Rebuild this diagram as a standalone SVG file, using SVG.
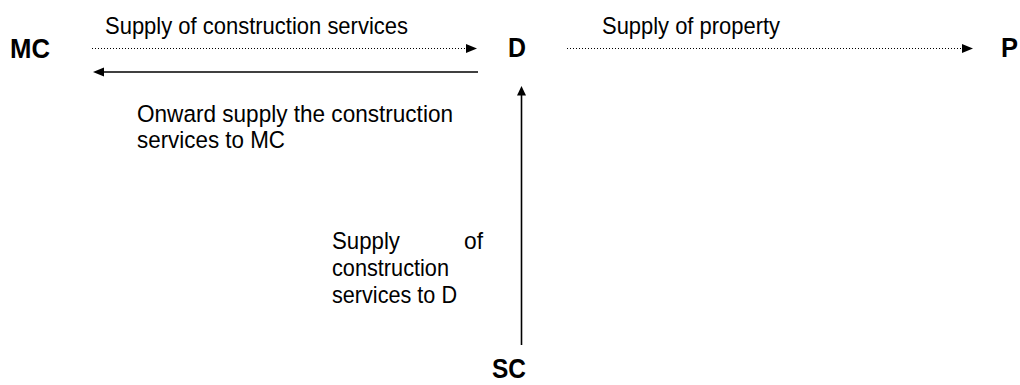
<svg xmlns="http://www.w3.org/2000/svg" width="1020" height="385" viewBox="0 0 1020 385">
<style>
.node{font-family:"Liberation Sans",Arial,sans-serif;font-weight:bold;font-size:27px;fill:#000}
.lbl{font-family:"Liberation Sans",Arial,sans-serif;font-size:24.5px;fill:#000}
.dot{stroke:#000;stroke-width:1;stroke-dasharray:1 2;fill:none}
.sol{stroke:#000;stroke-width:1.6;fill:none}
.head{fill:#000}
</style>
<rect width="1020" height="385" fill="#fff"/>
<g id="MC"><text class="node" x="10" y="58" textLength="40" lengthAdjust="spacingAndGlyphs">MC</text></g>
<g id="D"><text class="node" x="508" y="57" textLength="18" lengthAdjust="spacingAndGlyphs">D</text></g>
<g id="P"><text class="node" x="1001" y="57" textLength="17" lengthAdjust="spacingAndGlyphs">P</text></g>
<g id="SC"><text class="node" x="492" y="378" textLength="34" lengthAdjust="spacingAndGlyphs">SC</text></g>
<g id="connectors">
<line class="dot" x1="92" y1="48.5" x2="468" y2="48.5"/>
<polygon class="head" points="466,44 477,48.5 466,53"/>
<line class="sol" x1="478" y1="72" x2="103" y2="72"/>
<polygon class="head" points="104,67.5 93,72 104,76.5"/>
<line class="dot" x1="567" y1="48.5" x2="963" y2="48.5"/>
<polygon class="head" points="962,44 973,48.5 962,53"/>
<line class="sol" x1="521.5" y1="345" x2="521.5" y2="95"/>
<polygon class="head" points="517,95.5 521.5,86 526,95.5"/>
</g>
<g id="labels">
<text class="lbl" x="105" y="34" textLength="303" lengthAdjust="spacingAndGlyphs">Supply of construction services</text>
<text class="lbl" x="602" y="34" textLength="178" lengthAdjust="spacingAndGlyphs">Supply of property</text>
<text class="lbl" x="137" y="122" textLength="316" lengthAdjust="spacingAndGlyphs">Onward supply the construction</text>
<text class="lbl" x="137" y="148" textLength="148" lengthAdjust="spacingAndGlyphs">services to MC</text>
<text class="lbl" x="332" y="249" textLength="68" lengthAdjust="spacingAndGlyphs">Supply</text>
<text class="lbl" x="464" y="249" textLength="19" lengthAdjust="spacingAndGlyphs">of</text>
<text class="lbl" x="332" y="276" textLength="117" lengthAdjust="spacingAndGlyphs">construction</text>
<text class="lbl" x="332" y="303" textLength="125" lengthAdjust="spacingAndGlyphs">services to D</text>
</g>
</svg>
